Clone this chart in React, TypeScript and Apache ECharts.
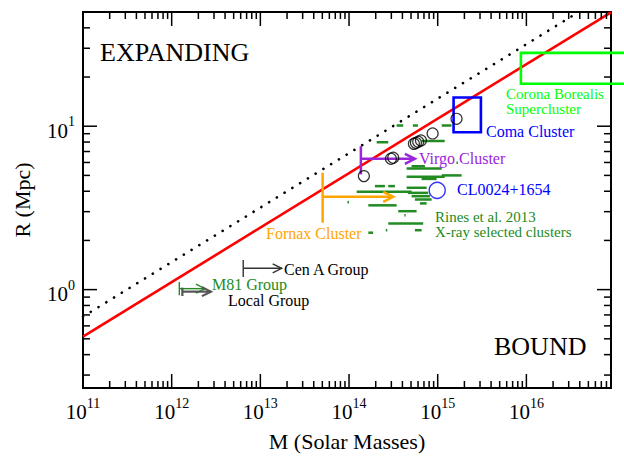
import React, { useEffect, useRef } from "react";
import * as echarts from "echarts";

const FONT = "Liberation Serif";

// Axis ranges and ticks
const X_RANGE = [1e11, 9e16];
const Y_RANGE = [0.25, 50];
const X_MAJOR_TICKS = [1e11, 1e12, 1e13, 1e14, 1e15, 1e16];
const MINOR_MULTIPLIERS = [2, 3, 4, 5, 6, 7, 8, 9];
const Y_MAJOR_TICKS = [1, 10];
const Y_MINOR_TICKS = [0.3, 0.4, 0.5, 0.6, 0.7, 0.8, 0.9, 2, 3, 4, 5, 6, 7, 8, 9, 20, 30, 40];

// Bound / expanding lines (endpoints)
const BOUND_M = [1e11, 9e16];
const BOUND_R = [0.516, 49.8];
const EXPAND_M = [1e11, 3.9e16];
const EXPAND_R = [0.684, 50];

// Open black circles
const CIRCLE_M = [1.63e15, 8.76e14, 6.47e14, 6.03e14, 5.68e14, 5.39e14, 3.15e14, 2.97e14, 1.47e14];
const CIRCLE_R = [11.1, 9.03, 8.18, 8.03, 7.91, 7.8, 6.41, 6.32, 4.95];

// CL0024+1654
const CL_M = [9.87e14];
const CL_R = [4.05];

// Rines et al. 2013 X-ray selected clusters (mass ranges at radius)
const RINES_M_LOW = [
  3.44e14, 5.25e14, 1.11e15, 2.05e14, 6.58e14, 5.08e14, 4.46e14, 4.46e14, 1.11e15, 6.58e14,
  1.96e14, 2.77e14, 4.46e14, 1.22e14, 4.61e14, 5.08e14, 5.53e14, 6.3e14, 1.65e14, 3.59e14,
  2.77e14, 5.53e14, 1.65e14, 9.6e13, 4.2e14, 2.6e14, 1.63e15,
];
const RINES_M_HIGH = [
  4.08e14, 5.98e14, 1.43e15, 2.77e14, 1.2e15, 7.17e14, 1.11e15, 1.2e15, 1.86e15, 9.72e14,
  2.54e14, 3.29e14, 7.5e14, 5.08e14, 7.81e14, 8.17e14, 8.54e14, 7.5e14, 3.44e14, 5.78e14,
  6.86e14, 6.58e14, 1.87e14, 1.0e14, 4.35e14, 2.7e14, 1.69e15,
];
const RINES_R = [
  10.1, 10.1, 10.1, 7.98, 8.12, 5.69, 5.51, 4.91, 5.0, 4.76,
  4.3, 4.3, 4.2, 3.97, 3.91, 3.73, 3.56, 3.37, 3.28, 3.02,
  2.54, 2.31, 2.23, 3.43, 2.85, 2.31, 5.97,
];

// Boxes: [M low, R low, M high, R high]
const COMA_BOX = [1.51e15, 9.19, 3.07e15, 15.0];
const CORONA_BOX = [8.67e15, 18.2, 2e17, 28.1];

// Lower-limit brackets: [M, R low, R high, R arrow, M arrow end]
const VIRGO = [1.36e14, 5.07, 7.55, 6.32, 5.53e14];
const FORNAX = [5.04e13, 2.57, 5.19, 3.7, 3.15e14];
const CEN_A = [6.41e12, 1.194, 1.517, 1.35, 1.74e13];
const M81 = [1.22e12, 0.923, 1.113, 1.014, 2.37e12];
const LOCAL = [1.32e12, 0.914, 1.028, 0.972, 2.77e12];

const GREEN_DARK = "#228b22";
const GREEN_BRIGHT = "#00ff00";
const BLUE = "#0000ff";
const PURPLE = "#9b26d9";
const ORANGE = "#ffa500";

const X_MINOR_TICKS = X_MAJOR_TICKS.flatMap((d) => MINOR_MULTIPLIERS.map((k) => k * d)).filter(
  (v) => v < X_RANGE[1]
);

function labelFormatter(v: number) {
  const e = Math.round(Math.log10(v));
  if (Math.abs(Math.log10(v) - e) > 1e-6) return "";
  return `{b|10}{s|${e}}`;
}

const RICH = {
  b: { fontFamily: FONT, fontSize: 21, lineHeight: 32, color: "#000" },
  s: { fontFamily: FONT, fontSize: 14, lineHeight: 14, verticalAlign: "top", color: "#000" },
};

function xTickRender(params: any, api: any) {
  const v = api.value(0);
  const len = api.value(2) === 1 ? 14 : 7;
  const b = api.coord([v, Y_RANGE[0]]);
  const t = api.coord([v, Y_RANGE[1]]);
  const style = { stroke: "#000", lineWidth: 1.5 };
  return {
    type: "group",
    children: [
      { type: "line", shape: { x1: b[0], y1: b[1], x2: b[0], y2: b[1] - len }, style },
      { type: "line", shape: { x1: t[0], y1: t[1], x2: t[0], y2: t[1] + len }, style },
    ],
  };
}

function yTickRender(params: any, api: any) {
  const v = api.value(1);
  const len = api.value(2) === 1 ? 14 : 7;
  const l = api.coord([X_RANGE[0], v]);
  const r = api.coord([X_RANGE[1], v]);
  const style = { stroke: "#000", lineWidth: 1.5 };
  return {
    type: "group",
    children: [
      { type: "line", shape: { x1: l[0], y1: l[1], x2: l[0] + len, y2: l[1] }, style },
      { type: "line", shape: { x1: r[0], y1: r[1], x2: r[0] - len, y2: r[1] }, style },
    ],
  };
}

function dashRender(color: string, width: number) {
  return (params: any, api: any) => {
    const p1 = api.coord([api.value(0), api.value(1)]);
    const p2 = api.coord([api.value(2), api.value(1)]);
    return {
      type: "line",
      shape: { x1: p1[0], y1: p1[1], x2: p2[0], y2: p2[1] },
      style: { stroke: color, lineWidth: width },
    };
  };
}

function boxRender(color: string, width: number) {
  return (params: any, api: any) => {
    const p1 = api.coord([api.value(0), api.value(1)]);
    const p2 = api.coord([api.value(2), api.value(3)]);
    return {
      type: "rect",
      shape: {
        x: Math.min(p1[0], p2[0]),
        y: Math.min(p1[1], p2[1]),
        width: Math.abs(p2[0] - p1[0]),
        height: Math.abs(p2[1] - p1[1]),
      },
      style: { stroke: color, lineWidth: width, fill: "none" },
    };
  };
}

function bracketRender(color: string, width: number, head: number) {
  return (params: any, api: any) => {
    const m = api.value(0);
    const p1 = api.coord([m, api.value(1)]);
    const p2 = api.coord([m, api.value(2)]);
    const a0 = api.coord([m, api.value(3)]);
    const a1 = api.coord([api.value(4), api.value(3)]);
    const style = { stroke: color, lineWidth: width, fill: "none" };
    return {
      type: "group",
      children: [
        { type: "line", shape: { x1: p1[0], y1: p1[1], x2: p2[0], y2: p2[1] }, style },
        { type: "line", shape: { x1: a0[0], y1: a0[1], x2: a1[0], y2: a1[1] }, style },
        {
          type: "polyline",
          shape: {
            points: [
              [a1[0] - head, a1[1] - head * 0.5],
              [a1[0], a1[1]],
              [a1[0] - head, a1[1] + head * 0.5],
            ],
          },
          style,
        },
      ],
    };
  };
}

function bracketSeries(data: number[], color: string, width: number, head: number) {
  return {
    type: "custom",
    coordinateSystem: "cartesian2d",
    data: [data],
    encode: { x: [0, 4], y: [1, 2, 3] },
    renderItem: bracketRender(color, width, head),
    clip: false,
    silent: true,
    z: 4,
  };
}

function txt(text: string, x: number, y: number, size: number, color: string, lineHeight?: number) {
  return {
    type: "text",
    x,
    y,
    silent: true,
    z: 10,
    style: {
      text,
      fill: color,
      fontFamily: FONT,
      fontSize: size,
      lineHeight: lineHeight || size,
      align: "left",
      verticalAlign: "middle",
      textAlign: "left",
      textVerticalAlign: "middle",
    },
  };
}

export default function App() {
  const ref = useRef<HTMLDivElement>(null);

  useEffect(() => {
    document.body.style.margin = "0";
    if (!ref.current) return;
    const chart = echarts.init(ref.current, undefined, { renderer: "svg" });

    const option = {
      animation: false,
      backgroundColor: "#fff",
      textStyle: { fontFamily: FONT },
      grid: {
        left: 83,
        top: 12,
        width: 528,
        height: 376,
        show: true,
        borderColor: "#000",
        borderWidth: 2,
        backgroundColor: "transparent",
      },
      xAxis: {
        type: "log",
        logBase: 10,
        min: X_RANGE[0],
        max: X_RANGE[1],
        axisLine: { show: false },
        axisTick: { show: false },
        splitLine: { show: false },
        minorTick: { show: false },
        axisLabel: { formatter: labelFormatter, rich: RICH, margin: 8, fontFamily: FONT },
        name: "M (Solar Masses)",
        nameLocation: "middle",
        nameGap: 42,
        nameTextStyle: { fontFamily: FONT, fontSize: 22, color: "#000" },
      },
      yAxis: {
        type: "log",
        logBase: 10,
        min: Y_RANGE[0],
        max: Y_RANGE[1],
        axisLine: { show: false },
        axisTick: { show: false },
        splitLine: { show: false },
        minorTick: { show: false },
        axisLabel: {
          formatter: labelFormatter,
          rich: RICH,
          margin: 8,
          padding: [9, 0, 0, 0],
          fontFamily: FONT,
        },
        name: "R (Mpc)",
        nameLocation: "middle",
        nameGap: 50,
        nameTextStyle: { fontFamily: FONT, fontSize: 22, color: "#000" },
      },
      graphic: [
        txt("EXPANDING", 100, 52, 26, "#000"),
        txt("BOUND", 494, 346, 26, "#000"),
        txt("Corona Borealis\nSupercluster", 506, 101.5, 15, GREEN_BRIGHT, 15.5),
        txt("Coma Cluster", 486, 131.3, 16, BLUE),
        txt("Virgo Cluster", 419, 158.5, 16, PURPLE),
        txt("CL0024+1654", 457, 189.3, 16, BLUE),
        txt("Rines et al. 2013\nX-ray selected clusters", 435, 224.5, 15, GREEN_DARK, 15.5),
        txt("Fornax Cluster", 266, 233.5, 16, ORANGE),
        txt("Cen A Group", 284, 269, 16, "#000"),
        txt("M81 Group", 212, 284, 16, GREEN_DARK),
        txt("Local Group", 228, 300.5, 16, "#000"),
      ],
      series: [
        {
          type: "custom",
          coordinateSystem: "cartesian2d",
          data: X_MAJOR_TICKS.map((v) => [v, Y_RANGE[0], 1]).concat(
            X_MINOR_TICKS.map((v) => [v, Y_RANGE[0], 0])
          ),
          encode: { x: 0, y: 1 },
          renderItem: xTickRender,
          clip: false,
          silent: true,
          z: 6,
        },
        {
          type: "custom",
          coordinateSystem: "cartesian2d",
          data: Y_MAJOR_TICKS.map((v) => [X_RANGE[0], v, 1]).concat(
            Y_MINOR_TICKS.map((v) => [X_RANGE[0], v, 0])
          ),
          encode: { x: 0, y: 1 },
          renderItem: yTickRender,
          clip: false,
          silent: true,
          z: 6,
        },
        {
          type: "custom",
          coordinateSystem: "cartesian2d",
          data: RINES_M_LOW.map((m, i) => [m, RINES_R[i], RINES_M_HIGH[i]]),
          encode: { x: [0, 2], y: 1 },
          renderItem: dashRender(GREEN_DARK, 2.5),
          clip: false,
          silent: true,
          z: 2,
        },
        {
          type: "line",
          data: EXPAND_M.map((m, i) => [m, EXPAND_R[i]]),
          showSymbol: false,
          symbol: "none",
          silent: true,
          lineStyle: { color: "#000", width: 2.6, type: [0.1, 9], cap: "round" },
          z: 3,
        },
        {
          type: "line",
          data: BOUND_M.map((m, i) => [m, BOUND_R[i]]),
          showSymbol: false,
          symbol: "none",
          silent: true,
          lineStyle: { color: "#ff0000", width: 2.6 },
          z: 3,
        },
        {
          type: "scatter",
          data: CIRCLE_M.map((m, i) => [m, CIRCLE_R[i]]),
          symbol: "circle",
          symbolSize: 11,
          silent: true,
          itemStyle: { color: "rgba(0,0,0,0)", borderColor: "#000", borderWidth: 1.2 },
          z: 5,
        },
        {
          type: "scatter",
          data: CL_M.map((m, i) => [m, CL_R[i]]),
          symbol: "circle",
          symbolSize: 16,
          silent: true,
          itemStyle: { color: "rgba(0,0,0,0)", borderColor: BLUE, borderWidth: 1.4 },
          z: 5,
        },
        {
          type: "custom",
          coordinateSystem: "cartesian2d",
          data: [COMA_BOX],
          encode: { x: [0, 2], y: [1, 3] },
          renderItem: boxRender(BLUE, 2.6),
          clip: false,
          silent: true,
          z: 4,
        },
        {
          type: "custom",
          coordinateSystem: "cartesian2d",
          data: [CORONA_BOX],
          encode: { x: [0, 2], y: [1, 3] },
          renderItem: boxRender(GREEN_BRIGHT, 2.6),
          clip: false,
          silent: true,
          z: 4,
        },
        bracketSeries(VIRGO, PURPLE, 2.5, 10),
        bracketSeries(FORNAX, ORANGE, 2.5, 10),
        bracketSeries(CEN_A, "#333", 1.4, 9),
        bracketSeries(M81, GREEN_DARK, 1.4, 9),
        bracketSeries(LOCAL, "#555", 2.2, 9),
      ],
    };

    chart.setOption(option as any);
    return () => chart.dispose();
  }, []);

  return <div ref={ref} style={{ width: 624, height: 457 }} />;
}
